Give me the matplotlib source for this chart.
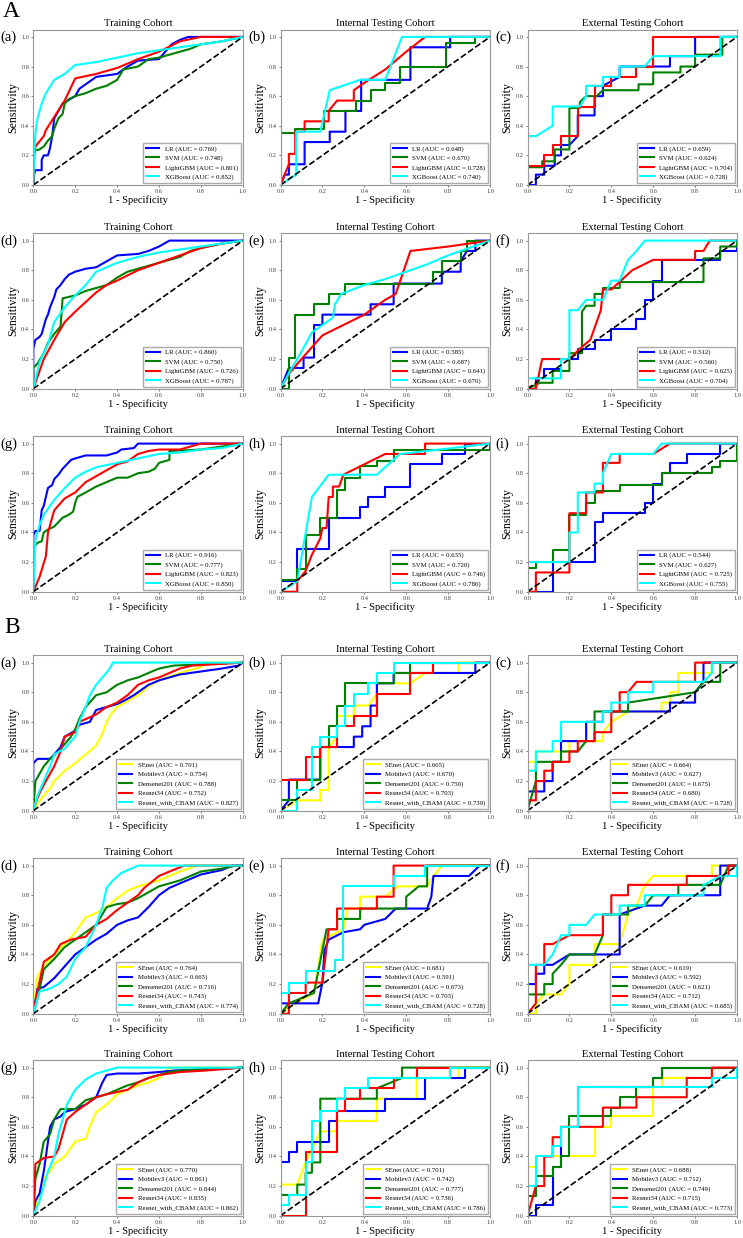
import numpy as np
import matplotlib
matplotlib.use("Agg")
import matplotlib.pyplot as plt

plt.rcParams['font.family'] = ['Liberation Serif', 'DejaVu Serif']

W, H = 743, 1238

ml_models = ["LR", "SVM", "LightGBM", "XGBoost"]
ml_colors = ["blue", "green", "red", "cyan"]
dl_models = ["SEnet", "Mobilev3", "Densenet201", "Resnet34", "Resnet_with_CBAM"]
dl_colors = ["yellow", "blue", "green", "red", "cyan"]
cohorts = ["Training Cohort", "Internal Testing Cohort", "External Testing Cohort"]
letters = list("abcdefghi")

# AUC per panel (a..i)
A_auc = [[0.769, 0.748, 0.801, 0.852], [0.648, 0.670, 0.728, 0.740], [0.659, 0.624, 0.704, 0.728],
         [0.860, 0.750, 0.726, 0.787], [0.585, 0.687, 0.641, 0.670], [0.512, 0.560, 0.625, 0.704],
         [0.916, 0.777, 0.823, 0.850], [0.635, 0.720, 0.746, 0.786], [0.544, 0.627, 0.725, 0.755]]
B_auc = [[0.701, 0.754, 0.788, 0.752, 0.827], [0.665, 0.670, 0.750, 0.703, 0.739], [0.664, 0.627, 0.675, 0.680, 0.728],
         [0.764, 0.665, 0.716, 0.743, 0.774], [0.681, 0.591, 0.673, 0.703, 0.728], [0.619, 0.592, 0.621, 0.712, 0.685],
         [0.770, 0.861, 0.844, 0.835, 0.862], [0.701, 0.742, 0.777, 0.736, 0.786], [0.688, 0.712, 0.749, 0.715, 0.773]]

# ROC points (fpr, tpr)
Aa = [
    [(0,0),(0.005,0.08),(0.01,0.1),(0.04,0.1),(0.04,0.17),(0.05,0.2),(0.07,0.2),(0.08,0.25),(0.09,0.33),(0.1,0.45),(0.12,0.5),(0.14,0.55),(0.2,0.6),(0.22,0.65),(0.25,0.68),(0.3,0.73),(0.35,0.74),(0.4,0.75),(0.43,0.78),(0.45,0.8),(0.5,0.84),(0.6,0.85),(0.63,0.9),(0.66,0.95),(0.7,0.98),(0.74,1.0),(1,1)],
    [(0,0),(0,0.23),(0.03,0.24),(0.05,0.26),(0.07,0.3),(0.09,0.33),(0.1,0.38),(0.12,0.45),(0.14,0.48),(0.15,0.55),(0.17,0.58),(0.2,0.6),(0.25,0.62),(0.3,0.65),(0.35,0.67),(0.4,0.71),(0.43,0.78),(0.5,0.8),(0.55,0.85),(0.6,0.86),(0.65,0.88),(0.7,0.9),(0.75,0.92),(0.8,0.95),(0.9,0.97),(1,1)],
    [(0,0),(0.005,0.2),(0.01,0.26),(0.05,0.33),(0.06,0.37),(0.1,0.46),(0.15,0.57),(0.2,0.72),(0.3,0.75),(0.4,0.79),(0.5,0.85),(0.6,0.9),(0.7,0.97),(0.8,1.0),(1,1)],
    [(0,0),(0.005,0.22),(0.01,0.35),(0.02,0.45),(0.04,0.55),(0.06,0.62),(0.1,0.71),(0.15,0.75),(0.2,0.81),(0.3,0.83),(0.4,0.86),(0.5,0.89),(0.6,0.91),(0.7,0.93),(0.8,0.95),(0.9,0.97),(1,1)],
]
Ab = [
    [(0,0),(0.02,0.07),(0.04,0.07),(0.04,0.14),(0.115,0.14),(0.115,0.29),(0.235,0.29),(0.235,0.36),(0.31,0.36),(0.31,0.5),(0.385,0.5),(0.385,0.71),(0.62,0.71),(0.62,0.93),(0.81,0.93),(0.81,1.0),(1,1)],
    [(0,0),(0,0.35),(0.07,0.35),(0.07,0.38),(0.21,0.38),(0.21,0.5),(0.36,0.5),(0.36,0.57),(0.43,0.57),(0.43,0.64),(0.5,0.64),(0.5,0.69),(0.57,0.69),(0.57,0.8),(0.79,0.8),(0.79,0.96),(0.93,0.96),(0.93,1.0),(1,1)],
    [(0,0),(0.02,0.07),(0.04,0.14),(0.04,0.21),(0.07,0.21),(0.07,0.36),(0.115,0.36),(0.115,0.43),(0.23,0.43),(0.23,0.5),(0.27,0.57),(0.35,0.57),(0.35,0.64),(0.4,0.69),(0.5,0.78),(0.6,0.9),(0.69,1.0),(1,1)],
    [(0,0),(0.075,0.07),(0.075,0.36),(0.19,0.36),(0.235,0.64),(0.38,0.71),(0.5,0.71),(0.58,1.0),(1,1)],
]
Ac = [
    [(0,0),(0.04,0),(0.04,0.07),(0.08,0.07),(0.08,0.13),(0.13,0.13),(0.13,0.2),(0.16,0.2),(0.16,0.27),(0.2,0.27),(0.24,0.33),(0.24,0.47),(0.32,0.47),(0.32,0.6),(0.36,0.6),(0.36,0.67),(0.44,0.73),(0.44,0.8),(0.68,0.8),(0.68,0.87),(0.8,0.87),(0.8,1.0),(1,1)],
    [(0,0),(0,0.12),(0.07,0.12),(0.07,0.16),(0.13,0.16),(0.13,0.24),(0.2,0.24),(0.2,0.52),(0.25,0.52),(0.25,0.56),(0.28,0.6),(0.33,0.6),(0.36,0.64),(0.53,0.64),(0.53,0.68),(0.6,0.68),(0.6,0.76),(0.73,0.76),(0.73,0.8),(0.8,0.8),(0.8,0.88),(0.93,0.88),(0.93,1.0),(1,1)],
    [(0,0),(0,0.13),(0.08,0.13),(0.08,0.2),(0.12,0.2),(0.12,0.27),(0.16,0.27),(0.16,0.33),(0.24,0.33),(0.24,0.53),(0.32,0.53),(0.32,0.67),(0.4,0.67),(0.4,0.73),(0.52,0.73),(0.52,0.8),(0.6,0.8),(0.6,1.0),(1,1)],
    [(0,0),(0,0.33),(0.04,0.33),(0.12,0.4),(0.12,0.53),(0.25,0.53),(0.28,0.6),(0.28,0.67),(0.36,0.67),(0.36,0.73),(0.44,0.73),(0.44,0.8),(0.56,0.8),(0.6,0.87),(0.92,0.87),(0.92,1.0),(1,1)],
]
Ad = [
    [(0,0),(0,0.27),(0.01,0.33),(0.03,0.35),(0.04,0.37),(0.05,0.42),(0.06,0.47),(0.07,0.5),(0.08,0.55),(0.1,0.62),(0.11,0.67),(0.13,0.7),(0.15,0.74),(0.17,0.77),(0.2,0.79),(0.25,0.81),(0.3,0.82),(0.35,0.86),(0.4,0.9),(0.5,0.91),(0.55,0.93),(0.6,0.96),(0.65,1.0),(1,1)],
    [(0,0),(0,0.14),(0.02,0.17),(0.05,0.24),(0.07,0.31),(0.1,0.37),(0.13,0.42),(0.14,0.61),(0.2,0.63),(0.25,0.66),(0.3,0.68),(0.35,0.7),(0.4,0.75),(0.45,0.79),(0.5,0.81),(0.55,0.83),(0.6,0.85),(0.65,0.87),(0.7,0.89),(0.75,0.93),(0.8,0.95),(0.9,0.98),(1,1)],
    [(0,0),(0.05,0.2),(0.1,0.33),(0.15,0.45),(0.2,0.52),(0.3,0.65),(0.35,0.7),(0.4,0.73),(0.5,0.8),(0.6,0.85),(0.7,0.9),(0.8,0.95),(0.9,0.98),(1,1)],
    [(0,0),(0.03,0.18),(0.07,0.3),(0.1,0.45),(0.15,0.55),(0.2,0.63),(0.25,0.7),(0.3,0.79),(0.4,0.85),(0.5,0.89),(0.6,0.92),(0.7,0.94),(0.8,0.96),(0.9,0.98),(1,1)],
]
Ae = [
    [(0,0),(0.04,0.14),(0.11,0.14),(0.11,0.21),(0.16,0.21),(0.16,0.43),(0.2,0.43),(0.2,0.5),(0.43,0.5),(0.43,0.57),(0.54,0.57),(0.54,0.71),(0.77,0.71),(0.77,0.79),(0.86,0.79),(0.86,0.86),(0.89,0.93),(0.93,0.93),(0.93,1.0),(1,1)],
    [(0,0),(0.04,0),(0.04,0.21),(0.07,0.21),(0.07,0.5),(0.16,0.5),(0.16,0.57),(0.23,0.57),(0.23,0.64),(0.31,0.64),(0.31,0.71),(0.73,0.71),(0.73,0.79),(0.77,0.79),(0.77,0.86),(0.86,0.86),(0.86,0.93),(0.89,0.93),(0.89,1.0),(1,1)],
    [(0,0),(0.04,0.1),(0.1,0.2),(0.2,0.36),(0.3,0.43),(0.4,0.5),(0.5,0.6),(0.55,0.64),(0.62,0.93),(0.8,0.96),(0.9,0.98),(1,1)],
    [(0,0),(0.05,0.13),(0.1,0.25),(0.15,0.38),(0.2,0.43),(0.25,0.48),(0.26,0.57),(0.29,0.64),(0.4,0.7),(0.5,0.74),(0.6,0.79),(0.7,0.84),(0.8,0.9),(0.9,0.95),(1,1)],
]
Af = [
    [(0,0),(0.04,0),(0.04,0.07),(0.08,0.07),(0.08,0.13),(0.16,0.13),(0.16,0.2),(0.24,0.2),(0.24,0.27),(0.32,0.27),(0.32,0.33),(0.4,0.33),(0.4,0.4),(0.52,0.4),(0.52,0.47),(0.56,0.47),(0.56,0.6),(0.6,0.6),(0.6,0.73),(0.64,0.73),(0.64,0.87),(0.92,0.87),(0.92,0.93),(1,0.93),(1,1)],
    [(0,0),(0.06,0.04),(0.12,0.04),(0.12,0.12),(0.2,0.12),(0.2,0.24),(0.26,0.24),(0.26,0.52),(0.28,0.56),(0.32,0.56),(0.32,0.64),(0.36,0.64),(0.36,0.68),(0.44,0.68),(0.44,0.72),(0.84,0.72),(0.84,0.88),(0.92,0.88),(0.92,0.96),(1,0.96),(1,1)],
    [(0,0),(0.04,0),(0.07,0.2),(0.2,0.2),(0.25,0.27),(0.3,0.33),(0.35,0.53),(0.36,0.67),(0.4,0.67),(0.5,0.8),(0.6,0.87),(0.8,0.87),(0.8,0.93),(0.84,0.93),(0.87,1.0),(1,1)],
    [(0,0),(0,0.07),(0.16,0.07),(0.16,0.2),(0.2,0.2),(0.2,0.53),(0.24,0.53),(0.28,0.6),(0.36,0.6),(0.4,0.73),(0.44,0.73),(0.48,0.87),(0.52,0.93),(0.56,1.0),(1,1)],
]
Ag = [
    [(0,0),(0,0.38),(0.01,0.41),(0.03,0.41),(0.04,0.55),(0.05,0.58),(0.06,0.64),(0.07,0.7),(0.09,0.72),(0.1,0.76),(0.12,0.79),(0.14,0.83),(0.16,0.86),(0.18,0.89),(0.2,0.9),(0.25,0.92),(0.35,0.92),(0.4,0.94),(0.42,0.96),(0.48,0.97),(0.5,1.0),(1,1)],
    [(0,0),(0,0.3),(0.02,0.33),(0.04,0.34),(0.05,0.4),(0.07,0.42),(0.1,0.44),(0.12,0.47),(0.14,0.5),(0.17,0.52),(0.19,0.54),(0.2,0.6),(0.21,0.64),(0.25,0.67),(0.3,0.71),(0.35,0.74),(0.4,0.77),(0.45,0.77),(0.5,0.8),(0.55,0.81),(0.58,0.83),(0.6,0.87),(0.65,0.89),(0.65,0.95),(0.8,0.96),(0.9,0.98),(1,1)],
    [(0,0),(0.03,0.1),(0.06,0.24),(0.07,0.4),(0.1,0.55),(0.15,0.63),(0.2,0.67),(0.25,0.74),(0.3,0.78),(0.35,0.82),(0.4,0.86),(0.45,0.88),(0.5,0.93),(0.55,0.95),(0.6,0.96),(0.7,0.96),(0.8,1.0),(1,1)],
    [(0,0),(0.01,0.35),(0.03,0.45),(0.05,0.52),(0.1,0.62),(0.15,0.7),(0.2,0.77),(0.25,0.81),(0.3,0.84),(0.4,0.87),(0.5,0.9),(0.6,0.93),(0.7,0.94),(0.8,0.96),(0.9,0.97),(1,1)],
]
Ah = [
    [(0,0),(0,0.07),(0.08,0.07),(0.08,0.29),(0.23,0.29),(0.23,0.5),(0.38,0.5),(0.38,0.57),(0.42,0.57),(0.42,0.64),(0.5,0.64),(0.5,0.71),(0.62,0.71),(0.62,0.86),(0.77,0.86),(0.77,0.93),(0.88,0.93),(0.88,1.0),(1,1)],
    [(0,0),(0,0.08),(0.08,0.08),(0.08,0.15),(0.12,0.15),(0.12,0.38),(0.19,0.38),(0.19,0.5),(0.27,0.5),(0.27,0.69),(0.31,0.69),(0.31,0.77),(0.38,0.77),(0.38,0.85),(0.46,0.85),(0.46,0.88),(0.54,0.88),(0.54,0.96),(1,0.96),(1,1)],
    [(0,0),(0.08,0),(0.08,0.07),(0.12,0.14),(0.15,0.25),(0.19,0.36),(0.2,0.43),(0.22,0.43),(0.23,0.64),(0.25,0.64),(0.25,0.71),(0.28,0.71),(0.3,0.79),(0.4,0.86),(0.5,0.93),(0.69,0.93),(0.69,1.0),(1,1)],
    [(0,0),(0.08,0.07),(0.15,0.64),(0.23,0.79),(0.46,0.79),(0.57,0.93),(0.7,0.95),(1,1)],
]
Ai = [
    [(0,0),(0.12,0),(0.12,0.2),(0.32,0.2),(0.32,0.47),(0.36,0.47),(0.36,0.53),(0.56,0.53),(0.56,0.6),(0.6,0.6),(0.6,0.73),(0.64,0.73),(0.64,0.8),(0.68,0.8),(0.68,0.87),(0.76,0.87),(0.76,0.93),(0.92,0.93),(0.92,1.0),(1,1)],
    [(0,0),(0,0.16),(0.04,0.16),(0.04,0.2),(0.12,0.2),(0.12,0.28),(0.2,0.28),(0.2,0.52),(0.28,0.52),(0.28,0.6),(0.32,0.6),(0.32,0.68),(0.44,0.68),(0.44,0.72),(0.64,0.72),(0.64,0.8),(0.88,0.8),(0.88,0.84),(0.92,0.84),(0.92,0.88),(1,0.88),(1,1)],
    [(0,0),(0.04,0),(0.04,0.13),(0.2,0.13),(0.2,0.53),(0.28,0.53),(0.28,0.67),(0.36,0.67),(0.36,0.87),(0.44,0.87),(0.44,0.93),(0.6,0.93),(0.68,1.0),(1,1)],
    [(0,0),(0,0.2),(0.2,0.2),(0.2,0.4),(0.24,0.4),(0.24,0.67),(0.32,0.67),(0.32,0.73),(0.36,0.73),(0.36,0.8),(0.4,0.93),(0.6,0.93),(0.64,1.0),(1,1)],
]

Ba = [
    [(0,0),(0.02,0.05),(0.05,0.1),(0.08,0.15),(0.1,0.2),(0.15,0.27),(0.2,0.32),(0.25,0.38),(0.3,0.44),(0.33,0.52),(0.35,0.6),(0.37,0.65),(0.4,0.7),(0.45,0.74),(0.5,0.78),(0.55,0.84),(0.6,0.88),(0.7,0.93),(0.8,0.97),(0.82,1.0),(1,1)],
    [(0,0),(0,0.32),(0.02,0.35),(0.08,0.35),(0.1,0.38),(0.13,0.43),(0.15,0.5),(0.2,0.54),(0.22,0.58),(0.27,0.6),(0.3,0.68),(0.35,0.7),(0.4,0.72),(0.43,0.74),(0.48,0.78),(0.5,0.8),(0.55,0.85),(0.6,0.88),(0.65,0.9),(0.7,0.92),(0.8,0.94),(0.9,0.96),(0.98,0.98),(1,1)],
    [(0,0),(0.01,0.2),(0.03,0.25),(0.05,0.3),(0.08,0.35),(0.12,0.4),(0.15,0.45),(0.18,0.5),(0.2,0.55),(0.22,0.62),(0.25,0.7),(0.3,0.78),(0.35,0.8),(0.4,0.85),(0.45,0.88),(0.5,0.9),(0.55,0.93),(0.6,0.96),(0.67,0.98),(1,1)],
    [(0,0),(0.01,0.05),(0.03,0.12),(0.06,0.2),(0.1,0.3),(0.13,0.4),(0.15,0.5),(0.2,0.53),(0.22,0.6),(0.3,0.65),(0.35,0.7),(0.4,0.73),(0.45,0.78),(0.5,0.85),(0.55,0.88),(0.6,0.9),(0.65,0.93),(0.7,0.96),(0.76,0.98),(1,1)],
    [(0,0),(0.02,0.1),(0.05,0.2),(0.08,0.3),(0.1,0.38),(0.15,0.42),(0.2,0.5),(0.22,0.6),(0.25,0.7),(0.27,0.78),(0.3,0.85),(0.33,0.9),(0.36,0.95),(0.38,1.0),(1,1)],
]
Bb = [
    [(0,0),(0.08,0.07),(0.19,0.07),(0.19,0.14),(0.23,0.14),(0.23,0.43),(0.27,0.5),(0.27,0.64),(0.35,0.64),(0.35,0.71),(0.42,0.71),(0.46,0.79),(0.46,0.86),(0.62,0.86),(0.69,0.93),(0.85,0.93),(0.85,1.0),(1,1)],
    [(0,0),(0.04,0.07),(0.04,0.21),(0.19,0.21),(0.19,0.43),(0.35,0.43),(0.35,0.5),(0.39,0.5),(0.39,0.57),(0.43,0.57),(0.43,0.71),(0.46,0.71),(0.46,0.86),(0.54,0.86),(0.54,0.93),(0.93,0.93),(0.93,1.0),(1,1)],
    [(0,0),(0,0.07),(0.08,0.07),(0.08,0.21),(0.19,0.21),(0.19,0.43),(0.23,0.43),(0.23,0.57),(0.27,0.57),(0.27,0.71),(0.31,0.71),(0.31,0.86),(0.54,0.86),(0.54,0.93),(0.62,0.93),(0.62,1.0),(1,1)],
    [(0,0),(0,0.21),(0.12,0.21),(0.12,0.36),(0.19,0.36),(0.19,0.43),(0.27,0.43),(0.27,0.57),(0.35,0.57),(0.35,0.64),(0.46,0.64),(0.46,0.79),(0.62,0.79),(0.62,0.93),(0.73,0.93),(0.73,1.0),(1,1)],
    [(0,0),(0.08,0),(0.08,0.14),(0.15,0.14),(0.15,0.43),(0.19,0.43),(0.19,0.5),(0.27,0.5),(0.27,0.57),(0.31,0.57),(0.31,0.71),(0.35,0.71),(0.35,0.79),(0.42,0.79),(0.42,0.86),(0.46,0.86),(0.46,0.93),(0.54,0.93),(0.54,1.0),(1,1)],
]
Bc = [
    [(0,0),(0,0.33),(0.04,0.33),(0.04,0.4),(0.2,0.4),(0.2,0.47),(0.36,0.47),(0.36,0.53),(0.4,0.6),(0.48,0.67),(0.64,0.67),(0.64,0.73),(0.68,0.73),(0.68,0.8),(0.72,0.8),(0.72,0.93),(0.88,0.93),(0.88,1.0),(1,1)],
    [(0,0),(0,0.13),(0.08,0.13),(0.08,0.2),(0.12,0.2),(0.12,0.33),(0.16,0.33),(0.16,0.47),(0.28,0.47),(0.28,0.6),(0.36,0.6),(0.36,0.67),(0.68,0.67),(0.68,0.73),(0.8,0.73),(0.8,0.8),(0.84,0.87),(0.84,1.0),(1,1)],
    [(0,0),(0.04,0.2),(0.04,0.33),(0.16,0.33),(0.16,0.4),(0.24,0.4),(0.28,0.47),(0.32,0.47),(0.32,0.67),(0.48,0.67),(0.48,0.73),(0.8,0.8),(0.84,0.87),(0.92,0.87),(0.92,1.0),(1,1)],
    [(0,0),(0,0.07),(0.04,0.07),(0.04,0.2),(0.08,0.2),(0.08,0.27),(0.12,0.27),(0.12,0.33),(0.2,0.33),(0.2,0.4),(0.24,0.4),(0.24,0.47),(0.32,0.47),(0.32,0.53),(0.4,0.53),(0.4,0.67),(0.44,0.67),(0.44,0.8),(0.48,0.8),(0.52,0.87),(0.8,0.87),(0.8,1.0),(1,1)],
    [(0,0),(0,0.27),(0.04,0.27),(0.04,0.4),(0.12,0.4),(0.12,0.47),(0.16,0.47),(0.16,0.6),(0.36,0.6),(0.36,0.67),(0.4,0.67),(0.4,0.73),(0.48,0.73),(0.48,0.8),(0.6,0.8),(0.6,0.87),(0.84,0.87),(0.88,0.93),(0.88,1.0),(1,1)],
]
Bd = [
    [(0,0),(0.01,0.15),(0.02,0.25),(0.04,0.3),(0.07,0.35),(0.1,0.4),(0.15,0.47),(0.2,0.55),(0.25,0.65),(0.3,0.68),(0.35,0.72),(0.4,0.78),(0.45,0.83),(0.5,0.86),(0.55,0.88),(0.6,0.9),(0.7,0.96),(0.78,1.0),(1,1)],
    [(0,0),(0.02,0.17),(0.05,0.18),(0.1,0.24),(0.15,0.32),(0.2,0.4),(0.25,0.45),(0.3,0.5),(0.35,0.54),(0.4,0.6),(0.45,0.63),(0.5,0.65),(0.55,0.72),(0.6,0.8),(0.65,0.85),(0.7,0.88),(0.8,0.94),(0.9,0.97),(0.95,1.0),(1,1)],
    [(0,0),(0.02,0.1),(0.05,0.3),(0.1,0.37),(0.15,0.45),(0.2,0.5),(0.25,0.55),(0.3,0.6),(0.35,0.72),(0.4,0.74),(0.45,0.75),(0.5,0.78),(0.55,0.82),(0.6,0.86),(0.7,0.9),(0.8,0.96),(0.9,0.98),(0.97,1.0),(1,1)],
    [(0,0),(0.02,0.15),(0.05,0.35),(0.1,0.4),(0.13,0.47),(0.18,0.5),(0.25,0.52),(0.3,0.6),(0.35,0.64),(0.4,0.7),(0.45,0.75),(0.5,0.8),(0.53,0.85),(0.6,0.93),(0.65,0.96),(0.72,1.0),(1,1)],
    [(0,0),(0.03,0.15),(0.08,0.17),(0.12,0.2),(0.16,0.25),(0.2,0.37),(0.25,0.45),(0.3,0.6),(0.33,0.72),(0.35,0.85),(0.38,0.9),(0.42,0.95),(0.5,1.0),(1,1)],
]
Be = [
    [(0,0),(0.07,0.07),(0.16,0.14),(0.2,0.5),(0.3,0.57),(0.32,0.71),(0.38,0.71),(0.38,0.79),(0.5,0.79),(0.56,0.86),(0.7,0.86),(0.73,0.93),(0.77,1.0),(1,1)],
    [(0,0),(0,0.07),(0.18,0.07),(0.2,0.21),(0.21,0.43),(0.23,0.5),(0.3,0.55),(0.38,0.57),(0.4,0.6),(0.5,0.64),(0.55,0.71),(0.7,0.71),(0.72,0.79),(0.73,0.93),(0.9,0.93),(0.95,1.0),(1,1)],
    [(0,0),(0.04,0.07),(0.16,0.14),(0.2,0.43),(0.22,0.57),(0.27,0.57),(0.27,0.64),(0.38,0.64),(0.38,0.71),(0.6,0.71),(0.6,0.79),(0.66,0.86),(0.7,0.86),(0.7,1.0),(1,1)],
    [(0,0),(0.04,0),(0.04,0.14),(0.12,0.14),(0.12,0.21),(0.2,0.21),(0.23,0.57),(0.27,0.57),(0.27,0.71),(0.46,0.71),(0.46,0.79),(0.54,0.79),(0.54,1.0),(1,1)],
    [(0,0),(0,0.14),(0.04,0.14),(0.04,0.21),(0.12,0.21),(0.12,0.29),(0.26,0.29),(0.26,0.36),(0.3,0.36),(0.3,0.86),(0.54,0.86),(0.54,0.93),(0.69,0.93),(0.69,1.0),(1,1)],
]
Bf = [
    [(0,0),(0.04,0),(0.04,0.07),(0.08,0.13),(0.16,0.13),(0.2,0.2),(0.2,0.33),(0.32,0.33),(0.32,0.47),(0.44,0.47),(0.48,0.67),(0.52,0.73),(0.56,0.87),(0.6,0.93),(0.88,0.93),(0.88,1.0),(1,1)],
    [(0,0),(0,0.2),(0.04,0.2),(0.04,0.27),(0.08,0.27),(0.08,0.33),(0.12,0.33),(0.2,0.4),(0.44,0.4),(0.44,0.67),(0.56,0.73),(0.64,0.73),(0.68,0.8),(0.92,0.8),(0.92,1.0),(1,1)],
    [(0,0),(0,0.13),(0.08,0.13),(0.08,0.2),(0.12,0.2),(0.12,0.27),(0.16,0.33),(0.2,0.4),(0.32,0.4),(0.36,0.53),(0.36,0.67),(0.48,0.67),(0.48,0.73),(0.56,0.73),(0.6,0.8),(0.72,0.8),(0.72,0.87),(0.92,0.87),(0.96,1.0),(1,1)],
    [(0,0),(0.04,0.07),(0.04,0.33),(0.08,0.33),(0.08,0.47),(0.12,0.47),(0.2,0.53),(0.36,0.53),(0.36,0.67),(0.4,0.67),(0.4,0.8),(0.48,0.8),(0.48,0.87),(0.76,0.87),(0.76,0.93),(0.96,0.93),(0.96,1.0),(1,1)],
    [(0,0),(0,0.33),(0.08,0.33),(0.12,0.4),(0.16,0.53),(0.2,0.53),(0.2,0.6),(0.28,0.6),(0.32,0.67),(0.44,0.67),(0.44,0.73),(0.56,0.73),(0.56,0.8),(0.84,0.8),(0.84,0.87),(0.92,0.93),(1,0.93),(1,1)],
]
Bg = [
    [(0,0),(0.03,0.15),(0.05,0.25),(0.08,0.3),(0.1,0.35),(0.15,0.4),(0.2,0.5),(0.25,0.52),(0.27,0.6),(0.3,0.7),(0.35,0.75),(0.4,0.82),(0.45,0.85),(0.5,0.88),(0.55,0.9),(0.6,0.93),(0.62,0.96),(0.65,1.0),(1,1)],
    [(0,0),(0.01,0.1),(0.03,0.15),(0.05,0.3),(0.07,0.5),(0.08,0.6),(0.1,0.65),(0.13,0.67),(0.15,0.7),(0.2,0.72),(0.25,0.75),(0.3,0.8),(0.33,0.9),(0.35,0.95),(0.4,0.96),(0.5,0.96),(0.6,0.97),(0.67,0.98),(1,1)],
    [(0,0),(0.01,0.25),(0.03,0.35),(0.05,0.5),(0.08,0.55),(0.1,0.65),(0.13,0.72),(0.2,0.72),(0.25,0.78),(0.3,0.8),(0.35,0.82),(0.4,0.85),(0.45,0.88),(0.5,0.9),(0.55,0.93),(0.6,0.95),(0.65,0.97),(0.7,0.98),(1,1)],
    [(0,0),(0.01,0.35),(0.03,0.37),(0.05,0.39),(0.1,0.4),(0.12,0.45),(0.14,0.55),(0.16,0.65),(0.2,0.7),(0.25,0.75),(0.3,0.8),(0.35,0.82),(0.45,0.85),(0.5,0.9),(0.55,0.93),(0.6,0.95),(0.7,0.97),(0.82,0.98),(1,1)],
    [(0,0),(0.03,0.1),(0.05,0.2),(0.07,0.3),(0.1,0.4),(0.12,0.55),(0.14,0.65),(0.16,0.75),(0.2,0.85),(0.25,0.92),(0.3,0.96),(0.4,1.0),(1,1)],
]
Bh = [
    [(0,0),(0,0.21),(0.08,0.21),(0.12,0.36),(0.19,0.57),(0.27,0.57),(0.27,0.64),(0.46,0.64),(0.46,0.79),(0.65,0.79),(0.65,0.93),(0.85,0.93),(0.85,1.0),(1,1)],
    [(0,0),(0,0.36),(0.04,0.36),(0.04,0.43),(0.08,0.43),(0.08,0.5),(0.23,0.5),(0.23,0.64),(0.27,0.64),(0.27,0.71),(0.5,0.71),(0.5,0.79),(0.69,0.79),(0.69,0.93),(0.88,0.93),(0.88,1.0),(1,1)],
    [(0,0),(0,0.14),(0.08,0.14),(0.08,0.21),(0.12,0.21),(0.12,0.29),(0.15,0.29),(0.15,0.36),(0.19,0.36),(0.19,0.79),(0.46,0.79),(0.46,0.86),(0.58,0.93),(0.58,1.0),(1,1)],
    [(0,0),(0.12,0),(0.12,0.43),(0.27,0.43),(0.27,0.71),(0.31,0.71),(0.31,0.79),(0.38,0.79),(0.38,0.86),(0.54,0.86),(0.54,0.93),(0.65,0.93),(0.65,1.0),(1,1)],
    [(0,0),(0,0.07),(0.04,0.07),(0.04,0.14),(0.12,0.14),(0.12,0.36),(0.15,0.36),(0.15,0.64),(0.19,0.64),(0.19,0.71),(0.27,0.71),(0.27,0.79),(0.31,0.79),(0.31,0.86),(0.42,0.86),(0.42,0.93),(0.81,0.93),(0.81,1.0),(1,1)],
]
Bi = [
    [(0,0),(0,0.33),(0.04,0.33),(0.04,0.4),(0.32,0.4),(0.32,0.6),(0.4,0.6),(0.4,0.67),(0.6,0.67),(0.6,0.87),(0.64,0.87),(0.64,0.93),(0.88,0.93),(0.88,1.0),(1,1)],
    [(0,0),(0.04,0),(0.04,0.07),(0.12,0.07),(0.12,0.33),(0.16,0.33),(0.16,0.6),(0.24,0.6),(0.24,0.87),(0.6,0.87),(0.6,0.93),(0.64,0.93),(0.64,1.0),(1,1)],
    [(0,0),(0,0.13),(0.04,0.13),(0.04,0.27),(0.12,0.27),(0.12,0.33),(0.16,0.33),(0.16,0.4),(0.2,0.4),(0.2,0.67),(0.4,0.67),(0.4,0.73),(0.44,0.73),(0.44,0.8),(0.52,0.8),(0.52,0.87),(0.6,0.87),(0.6,0.93),(0.64,0.93),(0.64,1.0),(1,1)],
    [(0,0),(0.04,0.2),(0.08,0.2),(0.08,0.4),(0.12,0.4),(0.12,0.53),(0.16,0.53),(0.16,0.6),(0.36,0.6),(0.36,0.73),(0.52,0.73),(0.52,0.8),(0.76,0.8),(0.76,0.93),(0.88,0.93),(0.88,1.0),(1,1)],
    [(0,0),(0,0.2),(0.04,0.2),(0.04,0.4),(0.12,0.4),(0.12,0.47),(0.16,0.47),(0.16,0.6),(0.24,0.6),(0.24,0.87),(0.88,0.87),(0.88,0.93),(1,0.93),(1,1)],
]

A_panels = [Aa, Ab, Ac, Ad, Ae, Af, Ag, Ah, Ai]
B_panels = [Ba, Bb, Bc, Bd, Be, Bf, Bg, Bh, Bi]

fig = plt.figure(figsize=(W / 100, H / 100), dpi=100)

col_left = [33.3, 280.5, 527.5]
col_w = 209.5
ax_h = 155.5
row_bottom = [185, 388.7, 591.7, 810.7, 1013.7, 1215.7]


def draw_panel(row, col, curves, aucs, names, colors, letter):
    ax = fig.add_axes([col_left[col] / W, 1 - row_bottom[row] / H, col_w / W, ax_h / H])
    for pts, auc, name, c in zip(curves, aucs, names, colors):
        p = np.array(pts)
        ax.plot(p[:, 0], p[:, 1], color=c, lw=1.5, label=f"{name} (AUC = {auc:.3f})")
    ax.plot([0, 1], [0, 1], color='black', ls='--', lw=1.2)
    ax.set_xlim(0, 1)
    ax.set_ylim(0, 1.05)
    ax.set_xticks(np.arange(0, 1.01, 0.2))
    ax.set_yticks(np.arange(0, 1.01, 0.2))
    ax.tick_params(labelsize=4.6, length=1.5, width=0.5, pad=1.5, colors='#444444')
    for s in ax.spines.values():
        s.set_color('#999999')
        s.set_linewidth(0.8)
    ax.set_title(cohorts[col], fontsize=7.6, pad=2.5)
    ax.set_xlabel("1 - Specificity", fontsize=7.6, labelpad=1)
    ax.set_ylabel("Sensitivity", fontsize=8.6, labelpad=1.5)
    ax.text(-0.155, 0.95, f"({letter})", transform=ax.transAxes, fontsize=10.5, ha='left', va='center')
    ax.legend(loc='lower right', fontsize=4.9, borderaxespad=0.3, framealpha=1,
              edgecolor='#aaaaaa', fancybox=False, handlelength=2.0)
    return ax


for i in range(9):
    draw_panel(i // 3, i % 3, A_panels[i], A_auc[i], ml_models, ml_colors, letters[i])
    draw_panel(3 + i // 3, i % 3, B_panels[i], B_auc[i], dl_models, dl_colors, letters[i])

fig.text(3 / W, 1 - 1 / H, "A", fontsize=17, ha='left', va='top')
fig.text(4 / W, 1 - 617 / H, "B", fontsize=17, ha='left', va='top')

fig.savefig("out.png", dpi=100)
